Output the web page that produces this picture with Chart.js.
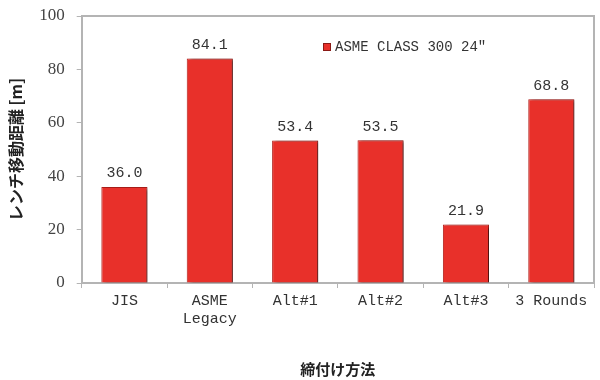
<!DOCTYPE html>
<html>
<head>
<meta charset="utf-8">
<script src="https://cdn.jsdelivr.net/npm/chart.js@4.4.0/dist/chart.umd.min.js"></script>
<style>
  html, body { margin: 0; padding: 0; background: #fff; }
  #wrap { width: 600px; height: 380px; }
</style>
</head>
<body>
<div id="wrap"><canvas id="barChart"></canvas></div>
<script>
// Chart data
const categories = [['JIS'], ['ASME', 'Legacy'], ['Alt#1'], ['Alt#2'], ['Alt#3'], ['3 Rounds']];
const distances = [36.0, 84.1, 53.4, 53.5, 21.9, 68.8];
const seriesName = 'ASME CLASS 300 24\u2033';
const yTicks = [0, 20, 40, 60, 80, 100];

const BAR_RED = '#e8302a';
const FRAME = '#b4b4b4';
const MONO = '"Liberation Mono", monospace';
const SERIF = '"Liberation Serif", serif';

// bar shadow on the right side like the original
const shadowPlugin = {
    id: 'barShadow',
    beforeDatasetsDraw(chart) {
        const ctx = chart.ctx;
        ctx.save();
        ctx.shadowColor = 'rgba(0, 0, 0, 0.6)';
        ctx.shadowOffsetX = 3;
        ctx.shadowOffsetY = 1;
        ctx.shadowBlur = 3;
    },
    afterDatasetsDraw(chart) {
        chart.ctx.restore();
    }
};

// value labels above bars + frame + legend inside the plot
const extrasPlugin = {
    id: 'extras',
    afterDatasetsDraw(chart) {
        const ctx = chart.ctx;
        const area = chart.chartArea;
        const ds = chart.data.datasets[0];
        const meta = chart.getDatasetMeta(0);

        ctx.save();
        ctx.font = '15px ' + MONO;
        ctx.fillStyle = '#333';
        ctx.textAlign = 'center';
        ctx.textBaseline = 'bottom';
        meta.data.forEach((bar, i) => {
            ctx.fillText(ds.data[i].toFixed(1), bar.x, bar.y - 6);
        });

        // top and right frame lines
        ctx.strokeStyle = FRAME;
        ctx.lineWidth = 2;
        ctx.beginPath();
        ctx.moveTo(area.left, area.top);
        ctx.lineTo(area.right, area.top);
        ctx.lineTo(area.right, area.bottom);
        ctx.stroke();

        // legend
        const lx = 323, ly = 47;
        ctx.fillStyle = ds.backgroundColor;
        ctx.fillRect(lx, ly - 4, 8, 8);
        ctx.strokeStyle = '#8a1a16';
        ctx.lineWidth = 1;
        ctx.strokeRect(lx + 0.5, ly - 3.5, 7, 7);
        ctx.fillStyle = '#333';
        ctx.font = '14px ' + MONO;
        ctx.textAlign = 'left';
        ctx.textBaseline = 'middle';
        ctx.fillText(ds.label, lx + 12, ly);
        ctx.restore();
    }
};

new Chart(document.getElementById('barChart').getContext('2d'), {
    type: 'bar',
    data: {
        labels: categories,
        datasets: [{
            label: seriesName,
            data: distances,
            backgroundColor: BAR_RED,
            borderColor: '#b01e19',
            borderWidth: 1,
            categoryPercentage: 0.54,
            barPercentage: 1.0
        }]
    },
    options: {
        responsive: true,
        maintainAspectRatio: false,
        animation: false,
        layout: { padding: { top: 16, right: 6, left: 6, bottom: 2 } },
        plugins: {
            legend: { display: false },
            tooltip: { enabled: false }
        },
        scales: {
            x: {
                grid: {
                    display: true,
                    drawOnChartArea: false,
                    drawTicks: true,
                    tickLength: 5,
                    color: FRAME,
                    offset: true
                },
                border: { display: true, color: FRAME, width: 2 },
                ticks: {
                    color: '#333',
                    font: { family: MONO, size: 15 },
                    padding: 4,
                    maxRotation: 0
                },
                title: {
                    display: true,
                    text: '締付け方法',
                    color: '#222',
                    font: { family: '"Noto Sans CJK JP"', size: 15, weight: 'bold' },
                    padding: { top: 28, bottom: 0 }
                }
            },
            y: {
                min: 0,
                max: 100,
                afterBuildTicks: axis => { axis.ticks = yTicks.map(v => ({ value: v })); },
                afterFit: axis => { axis.paddingTop = 0; },
                grid: {
                    display: true,
                    drawOnChartArea: false,
                    drawTicks: true,
                    tickLength: 5,
                    color: FRAME
                },
                border: { display: true, color: FRAME, width: 2 },
                ticks: {
                    color: '#444',
                    font: { family: SERIF, size: 17 },
                    padding: 12
                },
                title: {
                    display: true,
                    text: 'レンチ移動距離 [m]',
                    color: '#222',
                    font: { family: '"Noto Sans CJK JP"', size: 16, weight: 'bold' },
                    padding: { top: 0, bottom: 2 }
                }
            }
        }
    },
    plugins: [shadowPlugin, extrasPlugin]
});
</script>
</body>
</html>
